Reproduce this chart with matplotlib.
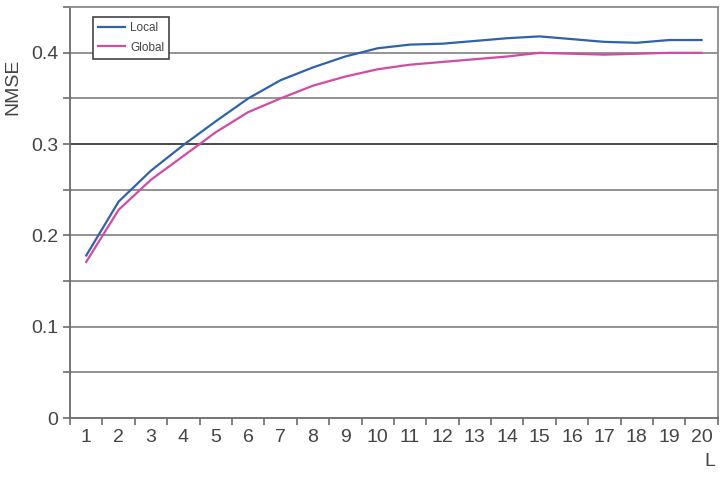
import matplotlib.pyplot as plt
import numpy as np
from matplotlib.ticker import MultipleLocator, FixedLocator

plt.rcParams['font.family'] = ['Liberation Sans', 'DejaVu Sans']

L = list(range(1, 21))
local_nmse = [0.178, 0.237, 0.271, 0.299, 0.325, 0.350, 0.370, 0.384, 0.396, 0.405,
              0.409, 0.410, 0.413, 0.416, 0.418, 0.415, 0.412, 0.411, 0.414, 0.414]
global_nmse = [0.171, 0.228, 0.261, 0.287, 0.313, 0.335, 0.350, 0.364, 0.374, 0.382,
               0.387, 0.390, 0.393, 0.396, 0.400, 0.399, 0.398, 0.399, 0.400, 0.400]

fig = plt.figure(figsize=(7.25, 4.78), dpi=100)
ax = fig.add_axes([0.0966, 0.1255, 0.8934, 0.8595])

# gridlines every 0.05
for g in np.arange(0.05, 0.45, 0.05):
    col = '#3a3a3a' if abs(g - 0.3) < 1e-6 else '#8a8a8a'
    ax.axhline(g, color=col, lw=1.3, zorder=1)

ax.plot(L, local_nmse, color='#2f62ad', lw=1.6, label='Local', zorder=3)
ax.plot(L, global_nmse, color='#d24aa6', lw=1.6, label='Global', zorder=3)

ax.set_xlim(0.5, 20.5)
ax.set_ylim(0, 0.45)

ax.set_yticks([0, 0.1, 0.2, 0.3, 0.4])
ax.set_yticklabels(['0', '0.1', '0.2', '0.3', '0.4'])
ax.yaxis.set_minor_locator(MultipleLocator(0.05))
ax.set_xticks(L)
ax.set_xticklabels([str(v) for v in L])
ax.xaxis.set_minor_locator(FixedLocator(np.arange(0.5, 21, 1.0)))

ax.tick_params(axis='x', which='major', length=0, labelsize=14, colors='#444444', pad=8)
ax.tick_params(axis='x', which='minor', length=5, width=1.3, color='#777777')
ax.tick_params(axis='y', which='both', length=5, width=1.3, color='#777777',
               labelsize=14, labelcolor='#444444')

for s in ax.spines.values():
    s.set_color('#8a8a8a')
    s.set_linewidth(1.3)
ax.spines['left'].set_color('#6a6a6a')
ax.spines['bottom'].set_color('#6a6a6a')

fig.text(13 / 725, 1 - 87 / 478, 'NMSE', fontsize=14, color='#444444',
         rotation=90, ha='center', va='center')
fig.text(0.979, 0.035, 'L', fontsize=14, color='#444444', ha='center', va='center')

leg = ax.legend(loc='upper left', bbox_to_anchor=(0.026, 0.99), fontsize=8.5,
                handlelength=2.3, handletextpad=0.4, borderpad=0.45,
                labelspacing=0.6, fancybox=False, framealpha=1)
leg.get_frame().set_edgecolor('#444444')
leg.get_frame().set_linewidth(1.2)
for t in leg.get_texts():
    t.set_color('#444444')

fig.savefig('out.png', dpi=100)
